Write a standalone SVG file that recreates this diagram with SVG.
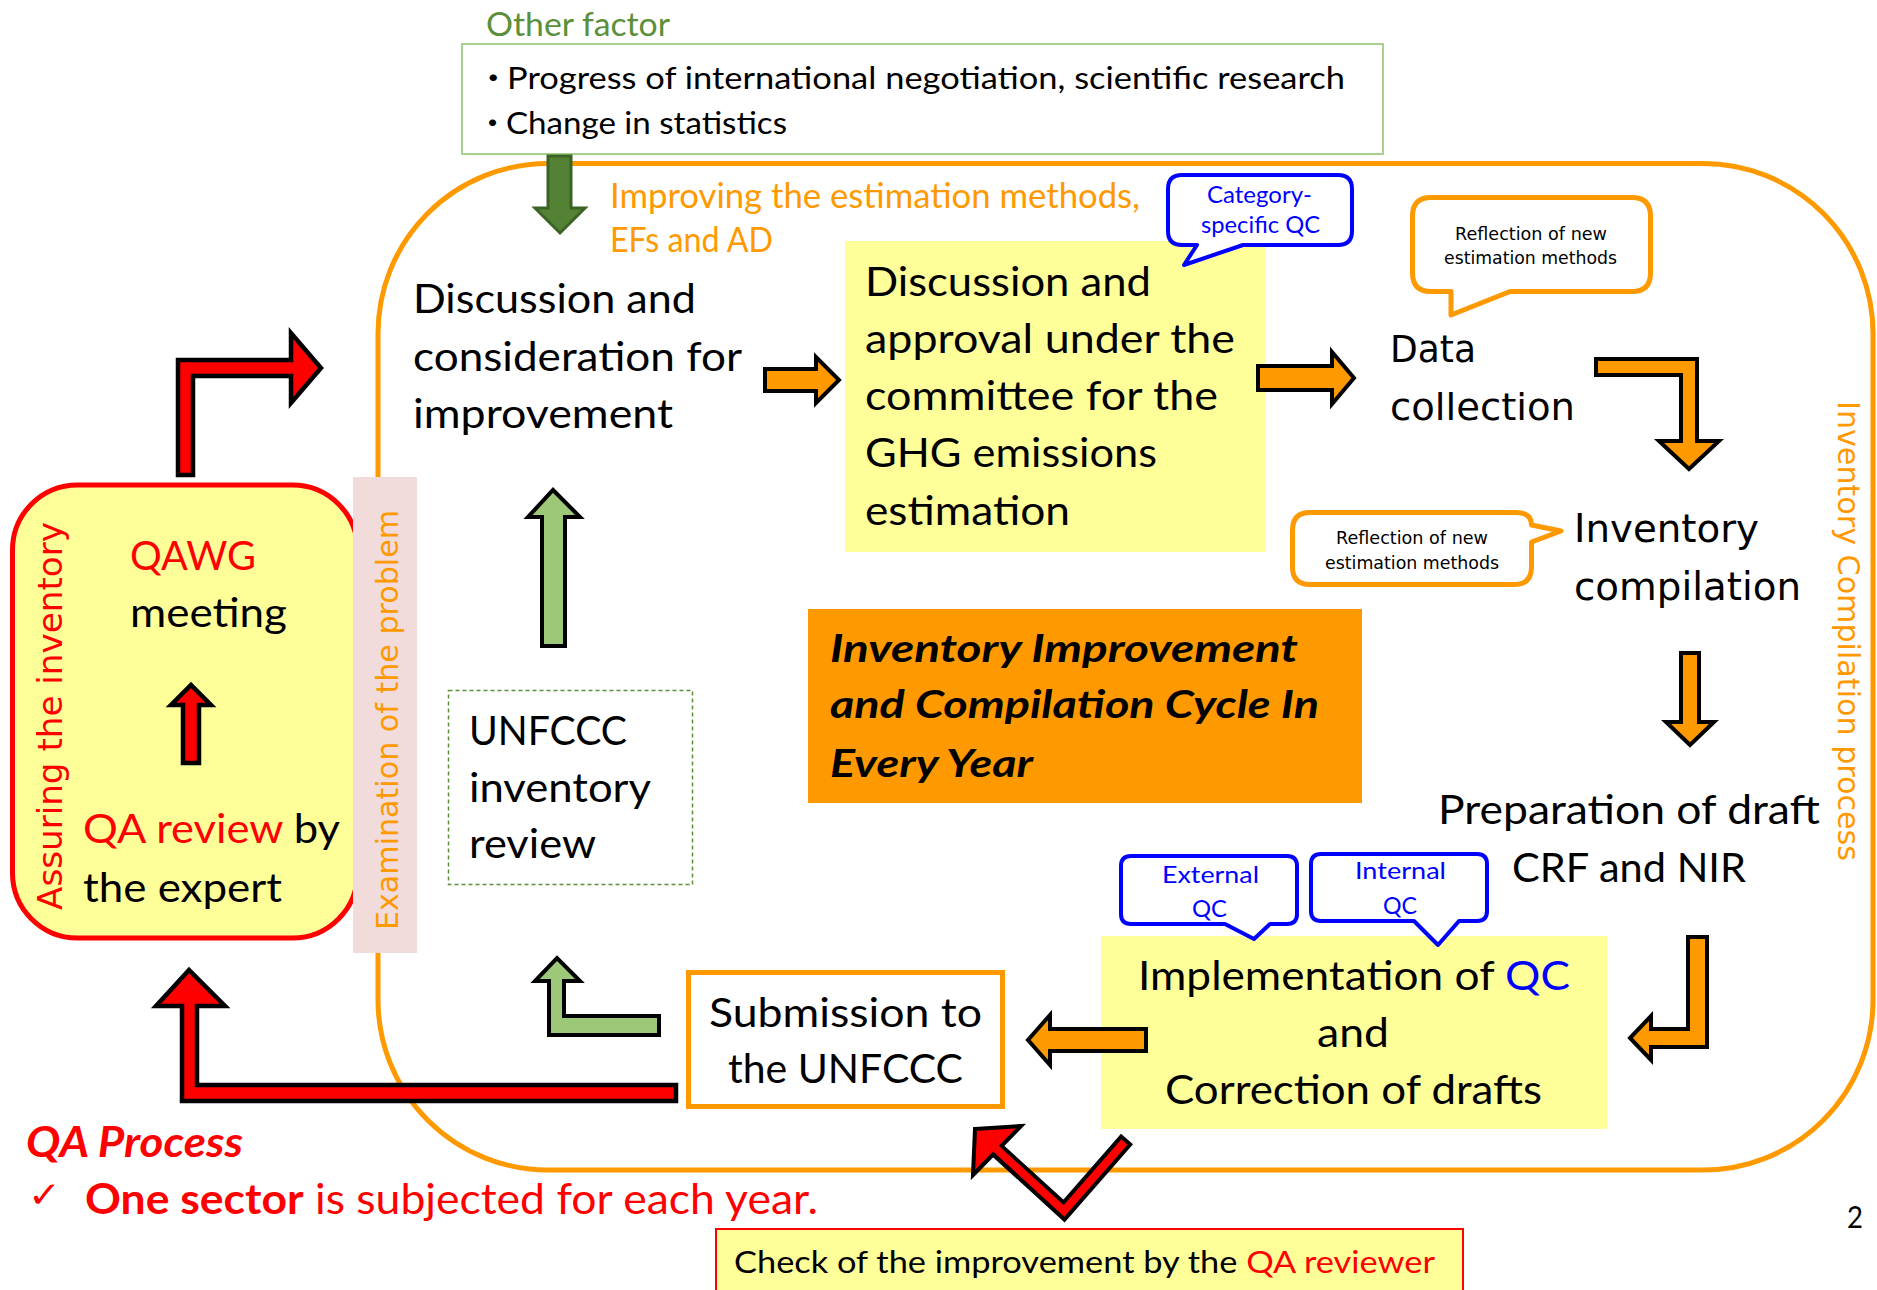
<svg xmlns="http://www.w3.org/2000/svg" width="1877" height="1290" viewBox="0 0 1877 1290">
<defs>
<style>
.t { font-family: Lato, "Liberation Sans", "Noto Sans CJK JP", sans-serif; }
.m { font-family: "DejaVu Sans", Verdana, sans-serif; }
.bi { font-weight: bold; font-style: italic; }
.ao { fill: #FF9900; stroke: #000; stroke-width: 4; stroke-linejoin: miter; }
.ar { fill: #FF0000; stroke: #000; stroke-width: 4.5; stroke-linejoin: miter; }
.ag { fill: #9DC878; stroke: #000; stroke-width: 4; stroke-linejoin: miter; }
.blue { fill: #fff; stroke: #0000FF; stroke-width: 4; stroke-linejoin: round; }
.oc { fill: #fff; stroke: #FF9900; stroke-width: 5; stroke-linejoin: round; }
.yel { fill: #FFFF99; }
</style>
</defs>
<rect width="1877" height="1290" fill="#fff"/>

<!-- cycle frame -->
<g id="frame">
<rect x="378" y="163.5" width="1495" height="1006.5" rx="170" ry="170" fill="none" stroke="#FF9900" stroke-width="5"/>
</g>

<!-- Other factor -->
<g id="other-factor">
<text class="t" x="486" y="36" font-size="32" fill="#5B8F3A" textLength="184" lengthAdjust="spacingAndGlyphs">Other factor</text>
<rect x="462" y="44" width="921" height="110" fill="#fff" stroke="#A9D18E" stroke-width="2"/>
<text class="t" x="476" y="89" font-size="31" fill="#000" textLength="869" lengthAdjust="spacingAndGlyphs">・<tspan dx="-3">Progress of international negotiation, scientific research</tspan></text>
<text class="t" x="476" y="134" font-size="31" fill="#000" textLength="311" lengthAdjust="spacingAndGlyphs">・<tspan dx="-3">Change in statistics</tspan></text>
</g>

<!-- QAWG box -->
<g id="qawg">
<rect x="12.5" y="485" width="345" height="453" rx="65" ry="65" fill="#FFFF99" stroke="#FF0000" stroke-width="5"/>
<text class="m" transform="translate(62,910) rotate(-90)" font-size="34" fill="#FF0000" textLength="388" lengthAdjust="spacingAndGlyphs">Assuring the inventory</text>
<text class="t" x="130" y="570" font-size="41" fill="#FF0000" textLength="126" lengthAdjust="spacingAndGlyphs">QAWG</text>
<text class="t" x="130" y="627" font-size="41" fill="#000" textLength="157" lengthAdjust="spacingAndGlyphs">meeting</text>
<text class="t" x="83" y="843" font-size="41" fill="#000" textLength="257" lengthAdjust="spacingAndGlyphs"><tspan fill="#FF0000">QA review</tspan> by</text>
<text class="t" x="83" y="902" font-size="41" fill="#000" textLength="199" lengthAdjust="spacingAndGlyphs">the expert</text>
</g>

<!-- Examination strip -->
<g id="examination">
<rect x="353" y="477" width="64" height="476" fill="#F2DCDB"/>
<text class="m" transform="translate(398,930) rotate(-90)" font-size="31" fill="#FF9900" textLength="420" lengthAdjust="spacingAndGlyphs">Examination of the problem</text>
</g>

<!-- Improving label -->
<g id="improving">
<text class="t" x="610" y="208" font-size="34" fill="#FF9900" textLength="530" lengthAdjust="spacingAndGlyphs">Improving the estimation methods,</text>
<text class="t" x="610" y="252" font-size="34" fill="#FF9900" textLength="163" lengthAdjust="spacingAndGlyphs">EFs and AD</text>
</g>

<!-- Discussion and consideration -->
<g id="discussion">
<text class="t" x="413" y="313" font-size="41" fill="#000" textLength="283" lengthAdjust="spacingAndGlyphs">Discussion and</text>
<text class="t" x="413" y="371" font-size="41" fill="#000" textLength="329" lengthAdjust="spacingAndGlyphs">consideration for</text>
<text class="t" x="413" y="428" font-size="41" fill="#000" textLength="260" lengthAdjust="spacingAndGlyphs">improvement</text>
</g>

<!-- Approval box -->
<g id="approval">
<rect class="yel" x="845" y="241" width="421" height="311"/>
<text class="t" x="865" y="296" font-size="41" fill="#000" textLength="286" lengthAdjust="spacingAndGlyphs">Discussion and</text>
<text class="t" x="865" y="353" font-size="41" fill="#000" textLength="370" lengthAdjust="spacingAndGlyphs">approval under the</text>
<text class="t" x="865" y="410" font-size="41" fill="#000" textLength="353" lengthAdjust="spacingAndGlyphs">committee for the</text>
<text class="t" x="865" y="467" font-size="41" fill="#000" textLength="292" lengthAdjust="spacingAndGlyphs">GHG emissions</text>
<text class="t" x="865" y="525" font-size="41" fill="#000" textLength="205" lengthAdjust="spacingAndGlyphs">estimation</text>
</g>

<!-- Category-specific QC callout -->
<g id="category-qc">
<path class="blue" d="M1182,175 H1338 Q1352,175 1352,189 V231 Q1352,245 1338,245 H1243 L1184,265 L1197,245 H1182 Q1168,245 1168,231 V189 Q1168,175 1182,175 Z"/>
<text class="t" x="1207" y="203" font-size="24" fill="#0000FF" textLength="105" lengthAdjust="spacingAndGlyphs">Category-</text>
<text class="t" x="1201" y="233" font-size="24" fill="#0000FF" textLength="119" lengthAdjust="spacingAndGlyphs">specific QC</text>
</g>

<!-- Reflection callout 1 -->
<g id="reflection-1">
<path class="oc" d="M1431,197.5 H1632 Q1650.5,197.5 1650.5,216 V273 Q1650.5,291.5 1632,291.5 H1510 L1451,315 L1451,291.5 H1431 Q1412.5,291.5 1412.5,273 V216 Q1412.5,197.5 1431,197.5 Z"/>
<text class="m" x="1455" y="240" font-size="17.5" fill="#000" textLength="152" lengthAdjust="spacingAndGlyphs">Reflection of new</text>
<text class="m" x="1444" y="264" font-size="17.5" fill="#000" textLength="173" lengthAdjust="spacingAndGlyphs">estimation methods</text>
</g>

<!-- Data collection -->
<g id="data-collection">
<text class="m" x="1390" y="362" font-size="38" fill="#000" textLength="86" lengthAdjust="spacingAndGlyphs">Data</text>
<text class="m" x="1390" y="420" font-size="38" fill="#000" textLength="185" lengthAdjust="spacingAndGlyphs">collection</text>
</g>

<!-- Reflection callout 2 -->
<g id="reflection-2">
<path class="oc" d="M1310,512.5 H1516 Q1531.5,512.5 1531.5,525 L1561,531 L1531.5,542 V567 Q1531.5,584.5 1514,584.5 H1310 Q1292.5,584.5 1292.5,567 V530 Q1292.5,512.5 1310,512.5 Z"/>
<text class="m" x="1336" y="544" font-size="17.5" fill="#000" textLength="152" lengthAdjust="spacingAndGlyphs">Reflection of new</text>
<text class="m" x="1325" y="569" font-size="17.5" fill="#000" textLength="174" lengthAdjust="spacingAndGlyphs">estimation methods</text>
</g>

<!-- Inventory compilation -->
<g id="inventory-compilation">
<text class="m" x="1574" y="542" font-size="39" fill="#000" textLength="185" lengthAdjust="spacingAndGlyphs">Inventory</text>
<text class="m" x="1574" y="600" font-size="39" fill="#000" textLength="227" lengthAdjust="spacingAndGlyphs">compilation</text>
</g>

<!-- vertical process label -->
<g id="process-label">
<text class="m" transform="translate(1838,401) rotate(90)" font-size="31" fill="#FF9900" textLength="460" lengthAdjust="spacingAndGlyphs">Inventory Compilation process</text>
</g>

<!-- Title box -->
<g id="title">
<rect x="808" y="609" width="554" height="194" fill="#FF9900"/>
<text class="t bi" x="830" y="662" font-size="39" fill="#000" textLength="468" lengthAdjust="spacingAndGlyphs">Inventory Improvement</text>
<text class="t bi" x="830" y="718" font-size="39" fill="#000" textLength="489" lengthAdjust="spacingAndGlyphs">and Compilation Cycle In</text>
<text class="t bi" x="830" y="777" font-size="39" fill="#000" textLength="203" lengthAdjust="spacingAndGlyphs">Every Year</text>
</g>

<!-- UNFCCC review -->
<g id="unfccc-review">
<rect x="448.5" y="690.5" width="244" height="194" fill="none" stroke="#5B8F3A" stroke-width="1.5" stroke-dasharray="4 3"/>
<text class="t" x="469" y="745" font-size="41" fill="#000" textLength="158" lengthAdjust="spacingAndGlyphs">UNFCCC</text>
<text class="t" x="469" y="802" font-size="41" fill="#000" textLength="182" lengthAdjust="spacingAndGlyphs">inventory</text>
<text class="t" x="469" y="858" font-size="41" fill="#000" textLength="127" lengthAdjust="spacingAndGlyphs">review</text>
</g>

<!-- Preparation -->
<g id="preparation">
<text class="t" x="1438" y="824" font-size="41" fill="#000" textLength="382" lengthAdjust="spacingAndGlyphs">Preparation of draft</text>
<text class="t" x="1512" y="882" font-size="41" fill="#000" textLength="234" lengthAdjust="spacingAndGlyphs">CRF and NIR</text>
</g>

<!-- Implementation box -->
<g id="implementation">
<rect class="yel" x="1101" y="936" width="506" height="193"/>
<text class="t" x="1138" y="990" font-size="41" fill="#000" textLength="432" lengthAdjust="spacingAndGlyphs">Implementation of <tspan fill="#0000FF">QC</tspan></text>
<text class="t" x="1317" y="1047" font-size="41" fill="#000" textLength="72" lengthAdjust="spacingAndGlyphs">and</text>
<text class="t" x="1165" y="1104" font-size="41" fill="#000" textLength="377" lengthAdjust="spacingAndGlyphs">Correction of drafts</text>
</g>

<!-- External / Internal QC callouts -->
<g id="external-qc">
<path class="blue" d="M1131,856 H1287 Q1297,856 1297,866 V914 Q1297,924 1287,924 H1270 L1254,939 L1225,924 H1131 Q1121,924 1121,914 V866 Q1121,856 1131,856 Z"/>
<text class="t" x="1162" y="883" font-size="24" fill="#0000FF" textLength="97" lengthAdjust="spacingAndGlyphs">External</text>
<text class="t" x="1192" y="917" font-size="24" fill="#0000FF" textLength="35" lengthAdjust="spacingAndGlyphs">QC</text>
</g>
<g id="internal-qc">
<path class="blue" d="M1321,854 H1477 Q1487,854 1487,864 V911 Q1487,921 1477,921 H1459 L1438,945 L1414,921 H1321 Q1311,921 1311,911 V864 Q1311,854 1321,854 Z"/>
<text class="t" x="1355" y="879" font-size="24" fill="#0000FF" textLength="91" lengthAdjust="spacingAndGlyphs">Internal</text>
<text class="t" x="1383" y="914" font-size="24" fill="#0000FF" textLength="34" lengthAdjust="spacingAndGlyphs">QC</text>
</g>

<!-- Submission -->
<g id="submission">
<rect x="688.5" y="972.5" width="314" height="134" fill="#fff" stroke="#FF9900" stroke-width="5"/>
<text class="t" x="709" y="1027" font-size="41" fill="#000" textLength="273" lengthAdjust="spacingAndGlyphs">Submission to</text>
<text class="t" x="728" y="1083" font-size="41" fill="#000" textLength="235" lengthAdjust="spacingAndGlyphs">the UNFCCC</text>
</g>

<!-- QA process notes -->
<g id="qa-process">
<text class="t bi" x="26" y="1157" font-size="42" fill="#FF0000" textLength="217" lengthAdjust="spacingAndGlyphs">QA Process</text>
<text class="m" x="28" y="1207" font-size="36" fill="#FF0000" textLength="33" lengthAdjust="spacingAndGlyphs">✓</text>
<text class="t" x="85" y="1214" font-size="42" fill="#FF0000" textLength="733" lengthAdjust="spacingAndGlyphs"><tspan font-weight="bold">One sector</tspan> is subjected for each year.</text>
</g>

<!-- Check box -->
<g id="check">
<rect x="716" y="1229" width="747" height="80" fill="#FFFF99" stroke="#FF0000" stroke-width="2"/>
<text class="t" x="734" y="1273" font-size="30" fill="#000" textLength="701" lengthAdjust="spacingAndGlyphs">Check of the improvement by the <tspan fill="#FF0000">QA reviewer</tspan></text>
</g>

<g id="page-number">
<text class="t" x="1847" y="1228" font-size="30" fill="#000" textLength="16" lengthAdjust="spacingAndGlyphs">2</text>
</g>

<!-- connectors -->
<g id="connectors">
<polygon points="548,156 571,156 571,208 585,208 560,233 535,208 548,208" fill="#548235" stroke="#3B6325" stroke-width="3"/>
<polygon class="ao" points="765,369 816,369 816,357 839,380 816,403 816,391 765,391"/>
<polygon class="ao" points="1258,366 1332,366 1332,352 1354,378 1332,404 1332,390 1258,390"/>
<polygon class="ao" points="1596,359 1697,359 1697,441 1719,441 1689,469 1659,441 1681,441 1681,375 1596,375"/>
<polygon class="ao" points="1681,653 1699,653 1699,722 1714,722 1690,745 1666,722 1681,722"/>
<polygon class="ao" points="1688,937 1707,937 1707,1047 1651,1047 1651,1060 1630,1038 1651,1016 1651,1029 1688,1029"/>
<polygon class="ao" points="1146,1029 1146,1051 1050,1051 1050,1065 1028,1040 1050,1015 1050,1029"/>
<polygon class="ag" points="542,646 565,646 565,517 580,517 553,490 528,517 542,517"/>
<polygon class="ag" points="659,1016 659,1035 549,1035 549,981 535,981 557,958 580,981 564,981 564,1016"/>
<polygon class="ar" points="178,475 178,360 291,360 291,333 321,368 291,403 291,376 193,376 193,475"/>
<polygon class="ar" points="183,763 199,763 199,705 211,705 191,685 171,705 183,705"/>
<polygon class="ar" points="676,1085 676,1101 182,1101 182,1006 156,1006 189,970 225,1006 197,1006 197,1085"/>
<polyline points="1127,1139 1064,1211 997,1150" fill="none" stroke="#000" stroke-width="16" stroke-linejoin="miter"/>
<polygon points="975,1129 1021,1126 973,1175" fill="#FF0000" stroke="#000" stroke-width="4" stroke-linejoin="miter"/>
<polyline points="1124.4,1142 1064,1211 992,1145" fill="none" stroke="#FF0000" stroke-width="8" stroke-linejoin="miter"/>
</g>
</svg>
